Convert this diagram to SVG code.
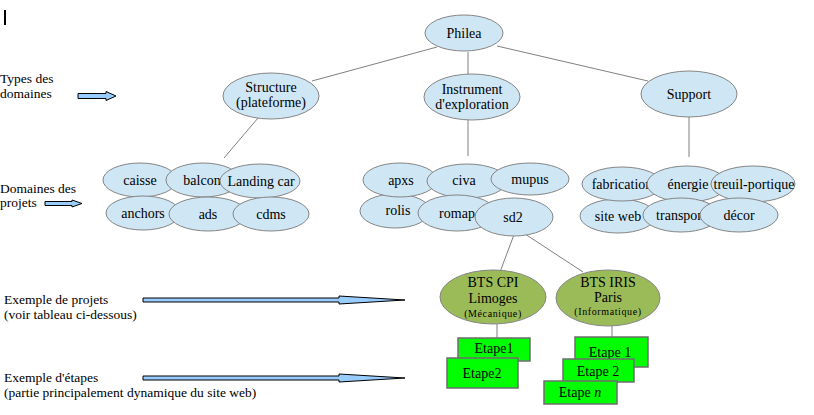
<svg xmlns="http://www.w3.org/2000/svg" width="814" height="415" viewBox="0 0 814 415">
<style>
text{font-family:"Liberation Serif","Times New Roman",serif;font-size:14px;fill:#000}
.c{text-anchor:middle}
.lbl{font-size:13.5px}
.n{fill:#cfe6f5;stroke:#858585;stroke-width:1}
.p{fill:#9bbb59;stroke:#858585;stroke-width:1}
.e{fill:#00ff00;stroke:#6e6e6e;stroke-width:1.5}
.arr{fill:#99ccff;stroke:#000;stroke-width:1}
.con line{stroke:#808080;stroke-width:1}
.sm{font-size:10px;letter-spacing:0.6px}
</style>
<rect x="0" y="0" width="814" height="415" fill="#fff"/>
<rect x="4" y="10" width="2" height="15" fill="#000"/>
<g id="labels">
<text class="lbl" x="0" y="82.5">Types des</text>
<text class="lbl" x="0" y="97.5">domaines</text>
<text class="lbl" x="0" y="192.5">Domaines des</text>
<text class="lbl" x="0" y="207">projets</text>
<text class="lbl" x="4" y="304">Exemple de projets</text>
<text class="lbl" x="4" y="319">(voir tableau ci-dessous)</text>
<text class="lbl" x="4" y="382">Exemple d'étapes</text>
<text class="lbl" x="4" y="397">(partie principalement dynamique du site web)</text>
</g>
<g id="arrows">
<path class="arr" d="M78,93.5 H106 V91.5 L116,96 L106,100.5 V98.5 H78 Z"/>
<path class="arr" d="M45,201.5 H72 V200 L82,203.5 L72,207 V205.5 H45 Z"/>
<path class="arr" d="M143,298 H339 V296 L405,300 L339,304 V302 H143 Z"/>
<path class="arr" d="M143,376 H339 V374 L405,378 L339,382 V380 H143 Z"/>
</g>
<g class="con" id="connectors">
<line x1="437" y1="47" x2="312" y2="81"/>
<line x1="468" y1="52" x2="468" y2="74"/>
<line x1="497" y1="46" x2="648" y2="81"/>
<line x1="258" y1="118" x2="224" y2="158"/>
<line x1="468" y1="120" x2="468" y2="156"/>
<line x1="689" y1="117" x2="689" y2="157"/>
<line x1="515" y1="232" x2="500" y2="272"/>
<line x1="522" y1="232" x2="583" y2="272"/>
<line x1="497" y1="324" x2="497" y2="339"/>
<line x1="612" y1="324" x2="612" y2="338"/>
</g>
<g id="philea"><ellipse class="n" cx="464" cy="33" rx="39" ry="18"/><text class="c" x="464" y="38">Philea</text></g>
<g id="structure"><ellipse class="n" cx="271" cy="96" rx="48" ry="23"/><text class="c" x="271" y="92">Structure</text><text class="c" x="271" y="107">(plateforme)</text></g>
<g id="instrument"><ellipse class="n" cx="472" cy="97" rx="48" ry="23"/><text class="c" x="472" y="94">Instrument</text><text class="c" x="472" y="109">d'exploration</text></g>
<g id="support"><ellipse class="n" cx="689" cy="94" rx="48" ry="23"/><text class="c" x="689" y="99">Support</text></g>

<g id="caisse"><ellipse class="n" cx="140" cy="180" rx="37" ry="17"/><text class="c" x="140" y="185">caisse</text></g>
<g id="balcon"><ellipse class="n" cx="203" cy="180" rx="37" ry="17"/><text class="c" x="202" y="185">balcon</text></g>
<g id="landing"><ellipse class="n" cx="260" cy="181" rx="40" ry="17"/><text class="c" x="261" y="186">Landing car</text></g>
<g id="anchors"><ellipse class="n" cx="143" cy="213" rx="37" ry="17"/><text class="c" x="143" y="218">anchors</text></g>
<g id="ads"><ellipse class="n" cx="208" cy="214" rx="39" ry="17"/><text class="c" x="208" y="219">ads</text></g>
<g id="cdms"><ellipse class="n" cx="271" cy="214" rx="38" ry="17"/><text class="c" x="271" y="219">cdms</text></g>

<g id="rolis"><ellipse class="n" cx="395" cy="211" rx="35" ry="17"/><text class="c" x="398" y="215">rolis</text></g>
<g id="apxs"><ellipse class="n" cx="400" cy="180" rx="37" ry="17"/><text class="c" x="401" y="185">apxs</text></g>
<g id="civa"><ellipse class="n" cx="467" cy="181" rx="40" ry="17"/><text class="c" x="464" y="185">civa</text></g>
<g id="mupus"><ellipse class="n" cx="530" cy="179" rx="39" ry="16"/><text class="c" x="530" y="184">mupus</text></g>
<g id="romap"><ellipse class="n" cx="457" cy="213" rx="39" ry="18"/><text class="c" x="457" y="218">romap</text></g>
<g id="sd2"><ellipse class="n" cx="514" cy="217" rx="39" ry="19"/><text class="c" x="513" y="222">sd2</text></g>

<g id="siteweb"><ellipse class="n" cx="618" cy="216" rx="38" ry="17"/><text class="c" x="618" y="221">site web</text></g>
<g id="fabrication"><ellipse class="n" cx="622" cy="184" rx="40" ry="17"/><text class="c" x="622" y="189">fabrication</text></g>
<g id="energie"><ellipse class="n" cx="687" cy="184" rx="40" ry="18"/><text class="c" x="688" y="189">énergie</text></g>
<g id="transport"><ellipse class="n" cx="681" cy="215" rx="38" ry="17"/><text class="c" x="681" y="220">transport</text></g>
<g id="treuil"><ellipse class="n" cx="753" cy="184" rx="42" ry="18"/><text class="c" x="754" y="189" font-size="13.5">treuil-portique</text></g>
<g id="decor"><ellipse class="n" cx="739" cy="215" rx="39" ry="17"/><text class="c" x="739" y="220">décor</text></g>

<g id="btscpi"><ellipse class="p" cx="493" cy="297" rx="53" ry="27"/><text class="c" x="493" y="287">BTS CPI</text><text class="c" x="493" y="303">Limoges</text><text class="c sm" x="493" y="317">(Mécanique)</text></g>
<g id="btsiris"><ellipse class="p" cx="608" cy="298" rx="52" ry="28"/><text class="c" x="608" y="287">BTS IRIS</text><text class="c" x="608" y="302">Paris</text><text class="c sm" x="608" y="315">(Informatique)</text></g>

<g id="etape1a"><rect class="e" x="458" y="338" width="72" height="23"/><text class="c" x="494" y="353">Etape1</text></g>
<g id="etape2a"><rect class="e" x="447" y="358" width="71" height="30"/><text class="c" x="482" y="378">Etape2</text></g>
<g id="etape1b"><rect class="e" x="575" y="337" width="73" height="30"/><text class="c" x="610" y="357">Etape 1</text></g>
<g id="etape2b"><rect class="e" x="563" y="359" width="71" height="23"/><text class="c" x="598" y="376">Etape 2</text></g>
<g id="etapen"><rect class="e" x="544" y="381" width="73" height="23"/><text class="c" x="580" y="397">Etape <tspan font-style="italic">n</tspan></text></g>
</svg>
